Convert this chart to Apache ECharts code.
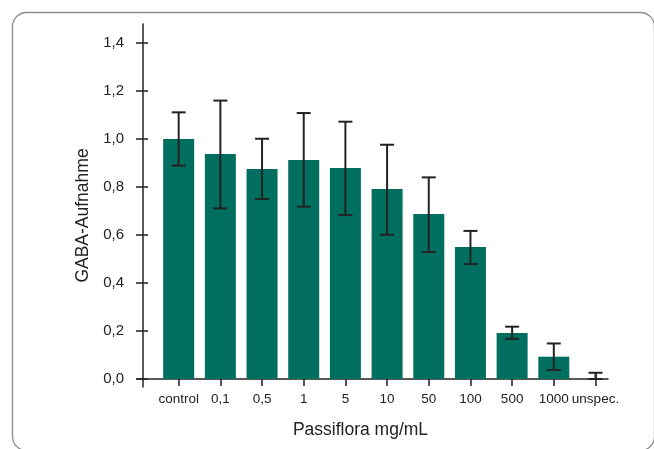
<!DOCTYPE html>
<html>
<head>
<meta charset="utf-8">
<script src="https://cdn.jsdelivr.net/npm/echarts@6/dist/echarts.min.js"></script>
<style>
html,body{margin:0;padding:0;background:#fff;}
#chart{width:654px;height:449px;}
</style>
</head>
<body>
<div id="chart"></div>
<script>
const categories = ['control', '0,1', '0,5', '1', '5', '10', '50', '100', '500', '1000', 'unspec.'];
const means = [1.0, 0.9375, 0.875, 0.9125, 0.879, 0.792, 0.6875, 0.55, 0.192, 0.093, 0];
const errHigh = [1.111, 1.16, 1.001, 1.108, 1.072, 0.976, 0.84, 0.617, 0.218, 0.148, 0.026];
const errLow = [0.889, 0.711, 0.75, 0.718, 0.683, 0.601, 0.529, 0.479, 0.167, 0.0375, 0];
const yTicks = [0, 0.2, 0.4, 0.6, 0.8, 1.0, 1.2, 1.4];
const xTitle = 'Passiflora mg/mL';
const yTitle = 'GABA-Aufnahme';

const FONT = "'Liberation Sans', Arial, Helvetica, sans-serif";
const INK = '#222';
const BAR = '#006f5f';
const idx = categories.map((c, i) => i);

const chart = echarts.init(document.getElementById('chart'), null, {renderer: 'canvas'});

const xCommon = {
  type: 'value', min: -1, max: 10.3, gridIndex: 0, position: 'bottom',
  splitLine: {show: false}
};
const yCommon = {
  type: 'value', min: -0.0333, max: 1.479, gridIndex: 0, position: 'left', offset: -6,
  splitLine: {show: false}
};

chart.setOption({
  animation: false,
  backgroundColor: '#fff',
  graphic: [{
    type: 'rect', left: 10, top: 10, silent: true,
    shape: {width: 642, height: 438, r: 14},
    style: {fill: 'none', stroke: '#8c8c8c', lineWidth: 1.3}
  }],
  grid: {left: 137, right: 46, top: 24, bottom: 62, containLabel: false},
  xAxis: [
    Object.assign({}, xCommon, {
      axisLine: {show: true, onZero: true, lineStyle: {color: INK, width: 1.5}},
      axisTick: {show: true, inside: false, length: 7, customValues: idx, lineStyle: {color: INK, width: 1.5}},
      axisLabel: {show: true, customValues: idx, margin: 5, color: INK, fontSize: 13.5, fontFamily: FONT,
        formatter: v => categories[Math.round(v)] || ''},
      name: xTitle, nameLocation: 'middle', nameGap: 34,
      nameTextStyle: {color: INK, fontSize: 17.5, fontFamily: FONT, padding: [0, 24, 0, 0]}
    }),
    Object.assign({}, xCommon, {
      axisLine: {show: false, onZero: true},
      axisTick: {show: true, inside: true, length: 6, customValues: idx, lineStyle: {color: INK, width: 1.5}},
      axisLabel: {show: false}
    })
  ],
  yAxis: [
    Object.assign({}, yCommon, {
      axisLine: {show: true, onZero: false, lineStyle: {color: INK, width: 1.5}},
      axisTick: {show: true, inside: false, length: 7, customValues: yTicks, lineStyle: {color: INK, width: 1.5}},
      axisLabel: {show: true, customValues: yTicks, margin: 19, color: INK, fontSize: 15, fontFamily: FONT,
        formatter: v => v.toFixed(1).replace('.', ',')},
      name: yTitle, nameLocation: 'middle', nameGap: 48, nameRotate: 90,
      nameTextStyle: {color: INK, fontSize: 17.5, fontFamily: FONT, padding: [0, 20, 0, 0]}
    }),
    Object.assign({}, yCommon, {
      axisLine: {show: false, onZero: false},
      axisTick: {show: true, inside: true, length: 5, customValues: yTicks, lineStyle: {color: INK, width: 1.5}},
      axisLabel: {show: false}
    })
  ],
  series: [
    {
      type: 'bar', xAxisIndex: 0, yAxisIndex: 0,
      barWidth: 31,
      itemStyle: {color: BAR},
      data: means.map((v, i) => [i, v]),
      z: 2
    },
    {
      type: 'custom', xAxisIndex: 0, yAxisIndex: 0, z: 5,
      encode: {x: 0, y: [1, 2]},
      data: means.map((v, i) => [i, errLow[i], errHigh[i]]),
      renderItem: function (params, api) {
        const x = api.value(0);
        const lo = api.coord([x, api.value(1)]);
        const hi = api.coord([x, api.value(2)]);
        const hw = 7;
        const st = {stroke: INK, lineWidth: 2};
        return {
          type: 'group',
          children: [
            {type: 'line', shape: {x1: hi[0], y1: hi[1], x2: lo[0], y2: lo[1]}, style: st},
            {type: 'line', shape: {x1: hi[0] - hw, y1: hi[1], x2: hi[0] + hw, y2: hi[1]}, style: st},
            {type: 'line', shape: {x1: lo[0] - hw, y1: lo[1], x2: lo[0] + hw, y2: lo[1]}, style: st}
          ]
        };
      }
    }
  ]
});
</script>
</body>
</html>
